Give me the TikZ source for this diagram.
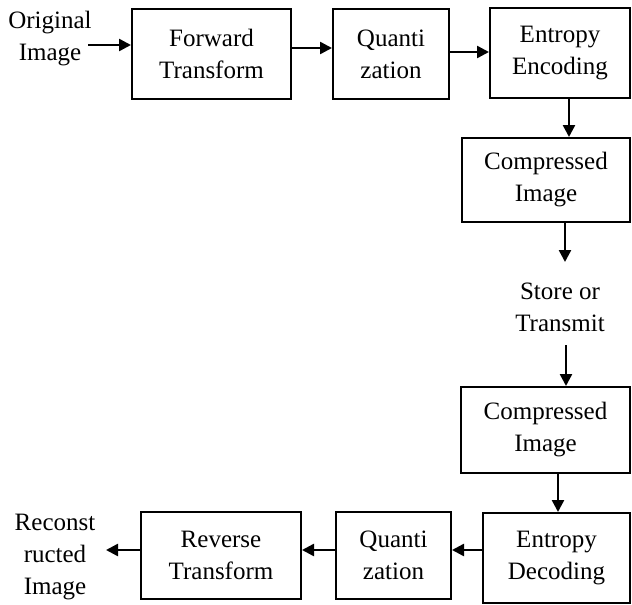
\documentclass[tikz,border=0pt]{standalone}
\usepackage{fontspec}
\setmainfont{Liberation Serif}
\usetikzlibrary{arrows.meta}
\begin{document}
\begin{tikzpicture}[x=1pt,y=-1pt,
  every node/.style={font=\fontsize{25}{32}\selectfont, align=center, inner sep=0pt},
  blk/.style={draw, line width=2pt, minimum width=#1},
  arr/.style={line width=2.5pt, -{Triangle[length=12pt,width=12pt]}}]
  \useasboundingbox (0,0) rectangle (632,605);

  % compression path
  \node (orig) at (50,39) {Original\\Image};
  \node[blk=159pt, minimum height=90pt] (fw) at (211.5,54) {Forward\\Transform};
  \node[blk=116pt, minimum height=90pt] (q1) at (391,54) {Quanti\\zation};
  \node[blk=140pt, minimum height=90pt] (ee) at (560,53) {Entropy\\Encoding};
  \node[blk=168pt, minimum height=84pt] (ci1) at (546,180) {Compressed\\Image};
  \node (store) at (560,307) {Store or\\Transmit};

  % decompression path
  \node[blk=169pt, minimum height=86pt] (ci2) at (545.5,430) {Compressed\\Image};
  \node[blk=147pt, minimum height=90pt] (ed) at (556.5,558) {Entropy\\Decoding};
  \node[blk=115pt, minimum height=87pt] (q2) at (393.5,555.5) {Quanti\\zation};
  \node[blk=160pt, minimum height=87pt] (rt) at (221,555.5) {Reverse\\Transform};
  \node (rec) at (55,557) {Reconst\\ructed\\Image};

  % free arrow ends beside the plain text labels
  \coordinate (origout) at (88,45);
  \coordinate (storein) at (565,262);
  \coordinate (storeout) at (566,345);
  \coordinate (recin) at (106,550);

  % connectors
  \draw[arr] (origout) -- ([yshift=9pt]fw.west);
  \draw[arr] ([yshift=6pt]fw.east) -- ([yshift=6pt]q1.west);
  \draw[arr] ([yshift=2pt]q1.east) -- ([yshift=1pt]ee.west);
  \draw[arr] ([xshift=9pt]ee.south) -- ([xshift=23pt]ci1.north);
  \draw[arr] ([xshift=19pt]ci1.south) -- (storein);
  \draw[arr] (storeout) -- ([xshift=20.5pt]ci2.north);
  \draw[arr] ([xshift=12.5pt]ci2.south) -- ([xshift=1.5pt]ed.north);
  \draw[arr] ([yshift=8pt]ed.west) -- ([yshift=5.5pt]q2.east);
  \draw[arr] ([yshift=5.5pt]q2.west) -- ([yshift=5.5pt]rt.east);
  \draw[arr] ([yshift=5.5pt]rt.west) -- (recin);
\end{tikzpicture}
\end{document}
